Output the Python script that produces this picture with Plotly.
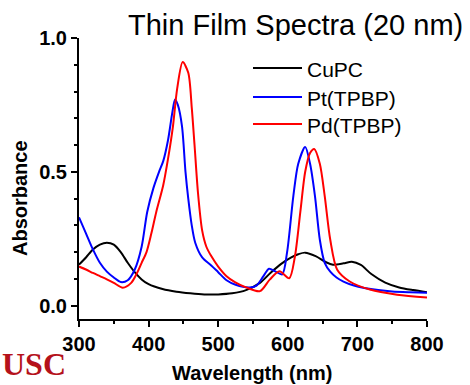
import plotly.graph_objects as go

# ---------------- data ----------------
wl_cupc = [300, 310, 320, 330, 340, 350, 360, 370, 380, 390, 400, 420, 440, 460, 480, 500,
           520, 540, 560, 575, 590, 605, 615, 625, 640, 655, 665, 680, 692, 705, 720, 740,
           760, 780, 800]
abs_cupc = [0.153, 0.18, 0.21, 0.228, 0.235, 0.228, 0.2, 0.16, 0.125, 0.098, 0.08, 0.062,
            0.052, 0.046, 0.042, 0.042, 0.046, 0.058, 0.085, 0.122, 0.155, 0.18, 0.192,
            0.198, 0.185, 0.162, 0.153, 0.158, 0.164, 0.152, 0.118, 0.086, 0.068, 0.058, 0.05]

wl_pt = [300, 310, 320, 330, 340, 350, 360, 370, 380, 390, 398, 407, 415, 421, 428, 434,
         438, 442, 448, 453, 457, 462, 467, 477, 490, 500, 512, 525, 545, 555, 565, 573,
         582, 592, 599, 608, 615, 625, 632, 639, 646, 653, 661, 670, 680, 695, 710, 730,
         750, 775, 800]
abs_pt = [0.33, 0.27, 0.21, 0.16, 0.127, 0.105, 0.088, 0.095, 0.134, 0.22, 0.35, 0.44, 0.5,
          0.54, 0.62, 0.72, 0.77, 0.75, 0.67, 0.5, 0.4, 0.3, 0.235, 0.18, 0.15, 0.125, 0.095,
          0.078, 0.068, 0.075, 0.11, 0.138, 0.128, 0.117, 0.2, 0.41, 0.53, 0.593, 0.53, 0.41,
          0.246, 0.16, 0.127, 0.105, 0.09, 0.075, 0.066, 0.058, 0.053, 0.05, 0.048]

wl_pd = [300, 310, 320, 330, 340, 350, 363, 375, 383, 390, 397, 404, 411, 421, 428, 435,
         441, 449, 457, 462, 466, 471, 477, 483, 490, 500, 512, 524, 540, 560, 574, 588,
         602, 610, 618, 625, 632, 638, 646, 653, 661, 671, 689, 718, 757, 800]
abs_pd = [0.146, 0.135, 0.122, 0.11, 0.098, 0.085, 0.067, 0.085, 0.12, 0.16, 0.2, 0.27,
          0.35, 0.45, 0.55, 0.67, 0.81, 0.91, 0.87, 0.74, 0.6, 0.42, 0.28, 0.22, 0.185,
          0.146, 0.11, 0.088, 0.068, 0.054, 0.097, 0.128, 0.102, 0.18, 0.35, 0.5, 0.57,
          0.585, 0.53, 0.41, 0.246, 0.134, 0.09, 0.06, 0.041, 0.03]

series_names = ["CuPC", "Pt(TPBP)", "Pd(TPBP)"]
series_colors = ["#000000", "#0000ff", "#ff0000"]

x_ticks = [300, 400, 500, 600, 700, 800]
x_ticktext = ["300", "400", "500", "600", "700", "800"]
y_ticks = [0.0, 0.5, 1.0]
y_ticktext = ["0.0", "0.5", "1.0"]

title_text = "Thin Film Spectra (20 nm)"
x_title = "Wavelength (nm)"
y_title = "Absorbance"
logo_text = "USC"

# ---------------- figure ----------------
FONT = "Liberation Sans, Arial, Helvetica, sans-serif"
W, H = 470, 385
ML, MR, MT, MB = 79, 43, 38, 66
PW, PH = W - ML - MR, H - MT - MB


def px_x(p):
    return (p - ML) / PW


def px_y(p):
    return (H - MB - p) / PH


fig = go.Figure()
for wl, ab, name, col in zip([wl_cupc, wl_pt, wl_pd], [abs_cupc, abs_pt, abs_pd],
                             series_names, series_colors):
    fig.add_trace(go.Scatter(x=wl, y=ab, mode="lines", name=name,
                             line=dict(color=col, width=2, shape="spline", smoothing=0.8),
                             showlegend=False))

axis_common = dict(showline=True, linecolor="black", linewidth=2, showgrid=False,
                   zeroline=False, ticks="outside", ticklen=6, tickwidth=2,
                   tickcolor="black", mirror=False, automargin=False,
                   tickfont=dict(family=FONT, size=20, color="black", weight="bold"))

fig.update_xaxes(range=[300, 800], tickvals=x_ticks,
                 ticktext=["<b>%s</b>" % t for t in x_ticktext],
                 minor=dict(ticks="outside", ticklen=3, tickwidth=2, tickcolor="black",
                            dtick=50, tick0=300, showgrid=False),
                 **axis_common)
fig.update_yaxes(range=[-0.05, 1.0], tickvals=y_ticks,
                 ticktext=["<b>%s</b>" % t for t in y_ticktext],
                 minor=dict(ticks="outside", ticklen=3, tickwidth=2, tickcolor="black",
                            dtick=0.1, tick0=0, showgrid=False),
                 **axis_common)

annotations = [
    dict(text=title_text, xref="paper", yref="paper", x=px_x(295), y=px_y(25),
         xanchor="center", yanchor="middle", showarrow=False,
         font=dict(family=FONT, size=29, color="black")),
    dict(text="<b>%s</b>" % y_title, xref="paper", yref="paper", x=px_x(20), y=px_y(198),
         xanchor="center", yanchor="middle", showarrow=False, textangle=-90,
         font=dict(family=FONT, size=20, color="black")),
    dict(text="<b>%s</b>" % x_title, xref="paper", yref="paper", x=px_x(252), y=px_y(373),
         xanchor="center", yanchor="middle", showarrow=False,
         font=dict(family=FONT, size=20, color="black")),
    dict(text="<b>%s</b>" % logo_text, xref="paper", yref="paper", x=px_x(0), y=px_y(364),
         xanchor="left", yanchor="middle", showarrow=False,
         font=dict(family="Liberation Serif, Times New Roman, serif", size=32,
                   color="#b5121b")),
]

shapes = []
legend_rows = [68, 97, 124]
for name, col, ry in zip(series_names, series_colors, legend_rows):
    shapes.append(dict(type="line", xref="paper", yref="paper",
                       x0=px_x(253), x1=px_x(302), y0=px_y(ry), y1=px_y(ry),
                       line=dict(color=col, width=2)))
    annotations.append(dict(text=name, xref="paper", yref="paper", x=px_x(305),
                            y=px_y(ry + 1), xanchor="left", yanchor="middle",
                            showarrow=False,
                            font=dict(family=FONT, size=21, color="black")))

fig.update_layout(width=W, height=H, margin=dict(l=ML, r=MR, t=MT, b=MB, pad=0),
                  paper_bgcolor="white", plot_bgcolor="white",
                  font=dict(family=FONT, color="black"),
                  annotations=annotations, shapes=shapes, showlegend=False)

fig.write_html("out.html")
